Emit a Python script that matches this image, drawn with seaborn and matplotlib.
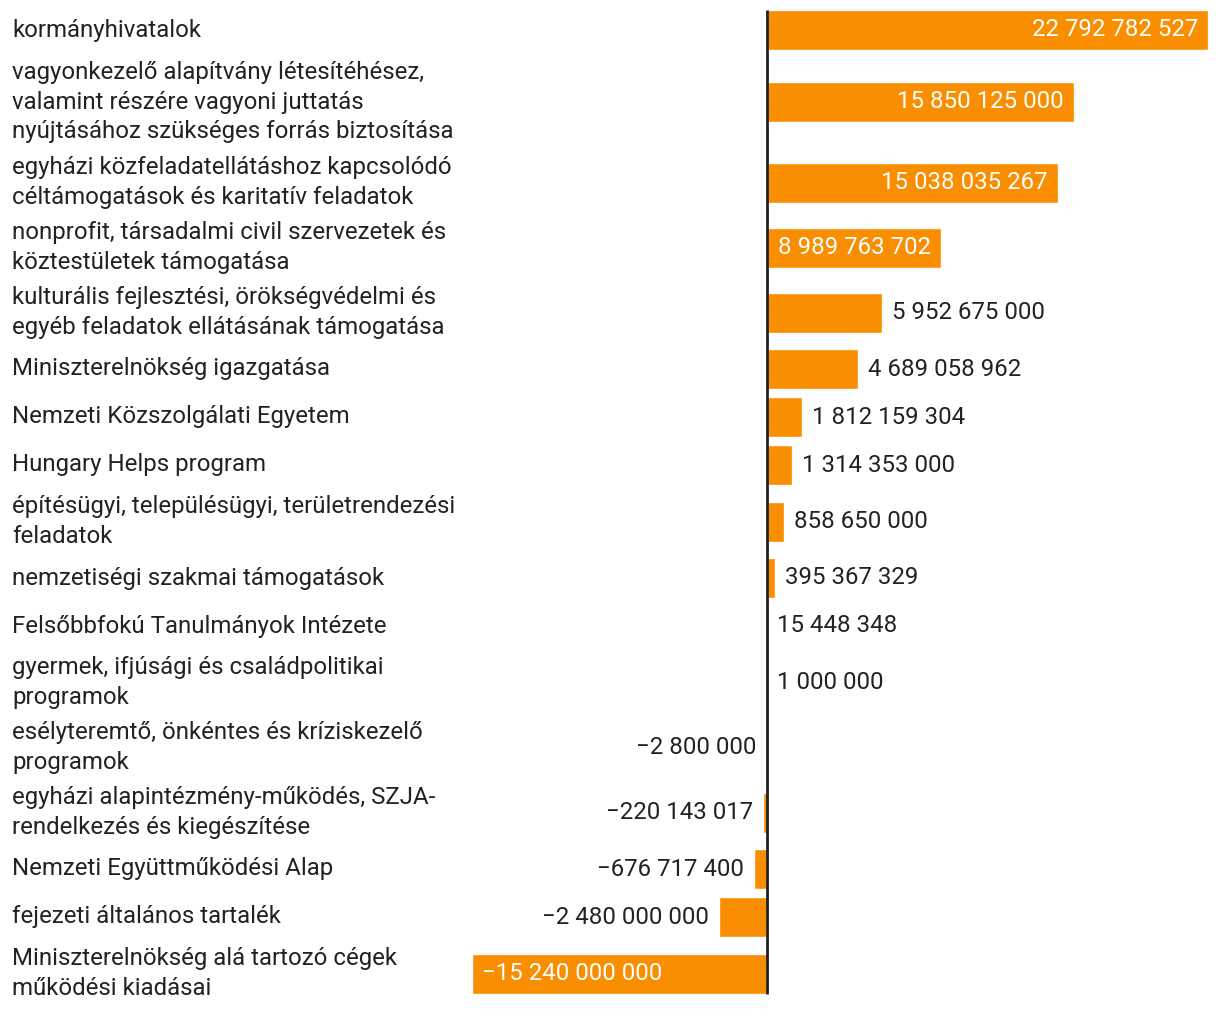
import matplotlib
matplotlib.use("Agg")
import numpy as np
import pandas as pd
import seaborn as sns
import matplotlib.pyplot as plt
import matplotlib.transforms as mtransforms

labels = [
    "kormányhivatalok",
    "vagyonkezelő alapítvány létesítéhésez,\nvalamint részére vagyoni juttatás\nnyújtásához szükséges forrás biztosítása",
    "egyházi közfeladatellátáshoz kapcsolódó\ncéltámogatások és karitatív feladatok",
    "nonprofit, társadalmi civil szervezetek és\nköztestületek támogatása",
    "kulturális fejlesztési, örökségvédelmi és\negyéb feladatok ellátásának támogatása",
    "Miniszterelnökség igazgatása",
    "Nemzeti Közszolgálati Egyetem",
    "Hungary Helps program",
    "építésügyi, településügyi, területrendezési\nfeladatok",
    "nemzetiségi szakmai támogatások",
    "Felsőbbfokú Tanulmányok Intézete",
    "gyermek, ifjúsági és családpolitikai\nprogramok",
    "esélyteremtő, önkéntes és kríziskezelő\nprogramok",
    "egyházi alapintézmény-működés, SZJA-\nrendelkezés és kiegészítése",
    "Nemzeti Együttműködési Alap",
    "fejezeti általános tartalék",
    "Miniszterelnökség alá tartozó cégek\nműködési kiadásai",
]
values = [
    22792782527, 15850125000, 15038035267, 8989763702, 5952675000,
    4689058962, 1812159304, 1314353000, 858650000, 395367329,
    15448348, 1000000, -2800000, -220143017, -676717400,
    -2480000000, -15240000000,
]

ORANGE = "#F98E00"
DARK = "#222222"
W, H = 1220, 1016
FS = 17.3

sns.set_theme(style="white")
plt.rcParams["font.family"] = ["Roboto", "DejaVu Sans"]

# row height (px) depends on how many lines the label has
row_h = {1: 48, 2: 65, 3: 96}
heights = [row_h[l.count("\n") + 1] for l in labels]
top = 6
centers = []
y = top
for h in heights:
    centers.append(y + h / 2)
    y += h

df = pd.DataFrame({"label": labels, "value": values, "pos": centers})

fig = plt.figure(figsize=(W / 100, H / 100), dpi=100)
x0, x1 = 472, 1208
ax = fig.add_axes([x0 / W, 0, (x1 - x0) / W, 1])
sns.barplot(data=df, x="value", y="pos", orient="h", native_scale=True,
            width=40 / 48, color=ORANGE, saturation=1, ax=ax)
ax.set_xlim(min(values), max(values))
ax.set_ylim(H, 0)
ax.axis("off")
ax.vlines(0, centers[0] - 20, centers[-1] + 20, color=DARK, lw=2, zorder=1)


def fmt(v):
    s = f"{abs(v):,}".replace(",", " ")
    return ("\u2212" if v < 0 else "") + s


tr = mtransforms.blended_transform_factory(fig.transFigure, ax.transData)
for lab, v, c in zip(labels, values, centers):
    ax.text(12 / W, c, lab, transform=tr, ha="left", va="center",
            fontsize=FS, color=DARK, linespacing=1.35)
    inside = abs(v) >= 8e9
    if v >= 0:
        off, ha = (-10, "right") if inside else (10, "left")
    else:
        off, ha = (10, "left") if inside else (-10, "right")
    ax.annotate(fmt(v), xy=(v, c), xytext=(off, 0), textcoords="offset pixels",
                ha=ha, va="center", fontsize=FS,
                color="white" if inside else DARK)

fig.savefig("out.png", dpi=100, facecolor="white")
